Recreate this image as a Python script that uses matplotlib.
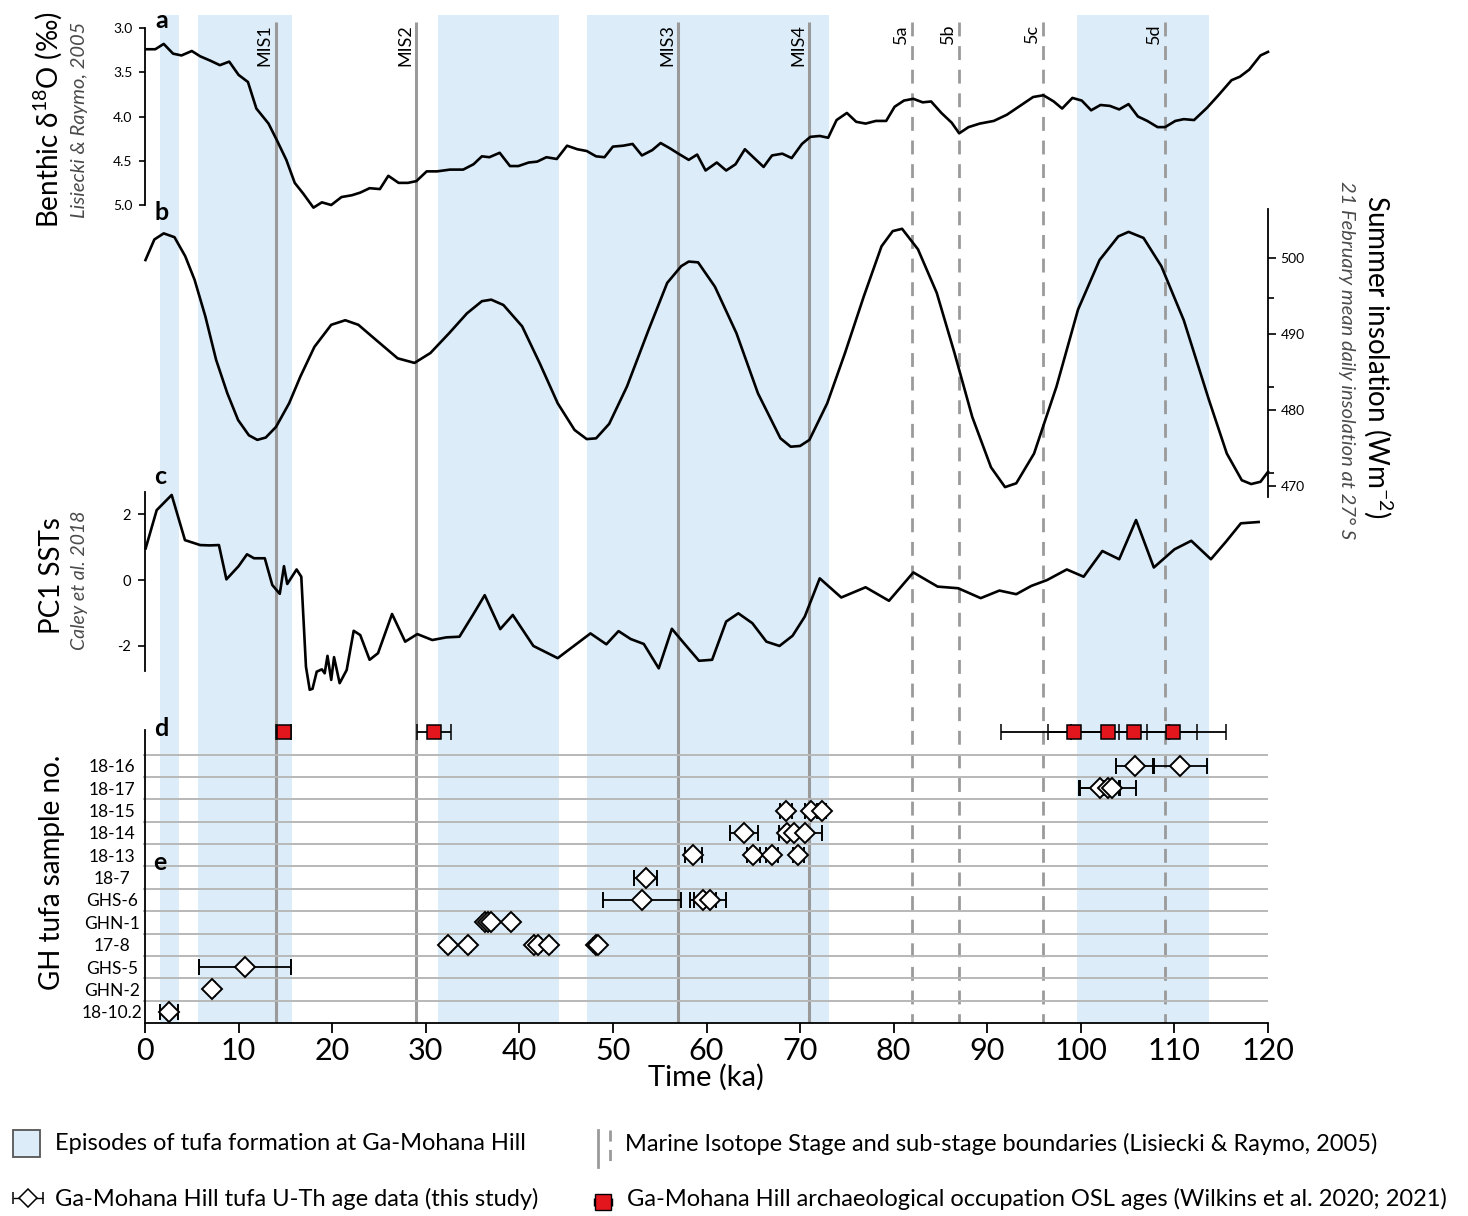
import numpy as np
import matplotlib.pyplot as plt
from matplotlib.patches import Rectangle

# ---- a: benthic d18O (Lisiecki & Raymo 2005) ----
a_age = [0.2, 1.1, 2.0, 3.0, 3.9, 5.0, 5.9, 7.0, 8.0, 9.0, 10.0, 11.0, 11.9, 13.2, 14.1, 15.1, 16.0, 16.9,
         18.0, 18.9, 19.9, 21.0, 22.1, 23.0, 24.0, 25.1, 26.0, 27.1, 28.1, 29.0, 30.1, 31.2, 32.6, 34.0,
         35.1, 36.0, 36.8, 37.9, 39.0, 39.9, 41.0, 41.9, 42.9, 44.0, 45.1, 46.2, 47.2, 48.2, 49.1, 50.0,
         51.1, 52.1, 53.1, 54.2, 55.1, 56.1, 57.0, 58.1, 59.0, 59.9, 61.1, 62.1, 63.1, 64.1, 65.0, 66.1,
         67.0, 68.1, 69.1, 70.2, 71.1, 72.1, 73.0, 73.9, 75.0, 76.0, 77.0, 78.1, 79.2, 80.1, 81.1, 82.1,
         83.1, 84.0, 85.1, 86.2, 87.0, 88.0, 89.2, 90.7, 92.1, 93.5, 94.9, 96.0, 97.1, 98.0, 99.1, 100.1,
         101.1, 102.1, 103.1, 104.1, 105.1, 106.1, 107.1, 108.2, 109.0, 110.1, 111.0, 112.1, 113.5, 114.7,
         116.1, 117.0, 118.0, 119.2, 120.0]
a_d18o = [3.24, 3.24, 3.18, 3.29, 3.31, 3.26, 3.32, 3.37, 3.42, 3.38, 3.53, 3.61, 3.91, 4.08, 4.27, 4.49,
          4.75, 4.87, 5.03, 4.97, 5.00, 4.91, 4.89, 4.86, 4.81, 4.82, 4.67, 4.75, 4.75, 4.73, 4.62, 4.62,
          4.60, 4.60, 4.54, 4.45, 4.46, 4.41, 4.56, 4.56, 4.52, 4.51, 4.46, 4.48, 4.33, 4.37, 4.39, 4.45,
          4.46, 4.34, 4.33, 4.31, 4.44, 4.38, 4.30, 4.36, 4.42, 4.49, 4.43, 4.61, 4.52, 4.61, 4.54, 4.37,
          4.46, 4.57, 4.44, 4.42, 4.47, 4.31, 4.23, 4.22, 4.24, 4.04, 3.96, 4.06, 4.08, 4.05, 4.05, 3.89,
          3.82, 3.80, 3.84, 3.83, 3.96, 4.07, 4.19, 4.12, 4.08, 4.05, 3.98, 3.88, 3.78, 3.76, 3.83, 3.91,
          3.79, 3.82, 3.93, 3.87, 3.88, 3.92, 3.86, 4.00, 4.05, 4.12, 4.12, 4.05, 4.03, 4.04, 3.90, 3.76,
          3.59, 3.55, 3.47, 3.31, 3.27]

# ---- b: summer insolation, 21 Feb, 27 S ----
b_age = [0.05, 1.0, 2.0, 3.15, 4.3, 5.3, 6.45, 7.6, 8.8, 9.95, 11.1, 12.0, 12.9, 14.0, 15.4, 16.6, 18.1,
         19.9, 21.4, 22.8, 24.7, 27.0, 28.8, 30.5, 32.5, 34.4, 36.0, 37.0, 38.3, 40.3, 42.2, 44.1, 45.9,
         47.2, 48.2, 49.6, 51.5, 53.8, 55.8, 57.3, 58.1, 59.1, 60.9, 63.2, 65.5, 67.9, 69.0, 70.0, 71.0,
         72.9, 74.8, 76.8, 78.7, 79.9, 80.9, 82.6, 84.6, 86.5, 88.4, 90.4, 91.9, 93.1, 95.0, 97.4, 99.7,
         102.0, 104.0, 105.1, 106.7, 108.6, 111.0, 113.7, 115.6, 117.2, 118.2, 119.2, 120.0]
b_insol = [499.7, 502.4, 503.2, 502.7, 500.2, 497.1, 492.3, 486.6, 482.2, 478.7, 476.7, 476.1, 476.4,
           477.8, 480.9, 484.4, 488.3, 491.2, 491.8, 491.2, 489.2, 486.8, 486.2, 487.5, 490.1, 492.7,
           494.3, 494.5, 493.8, 491.0, 486.1, 480.9, 477.4, 476.2, 476.3, 478.2, 483.1, 490.5, 496.7,
           498.9, 499.5, 499.4, 496.2, 490.1, 482.2, 476.3, 475.2, 475.3, 476.1, 480.9, 487.5, 494.9,
           501.5, 503.5, 503.8, 501.1, 495.4, 487.5, 479.1, 472.5, 469.9, 470.4, 474.3, 483.1, 493.2,
           499.7, 502.8, 503.4, 502.6, 498.9, 491.8, 481.3, 474.3, 470.8, 470.3, 470.6, 471.9]

# ---- c: PC1 SSTs (Caley et al. 2018) ----
c_age = [0.07, 1.25, 2.85, 4.27, 5.9, 6.9, 7.9, 8.7, 10.0, 10.9, 11.65, 12.8, 13.6, 14.4, 14.85, 15.2,
         16.2, 16.7, 17.2, 17.6, 17.9, 18.35, 18.9, 19.2, 19.5, 19.9, 20.2, 20.8, 21.55, 22.3, 23.0, 24.0,
         24.9, 26.4, 27.8, 29.1, 30.7, 32.2, 33.6, 35.1, 36.3, 37.96, 39.3, 41.5, 44.1, 47.6, 49.3, 50.6,
         51.9, 53.3, 54.9, 56.3, 57.6, 59.2, 60.6, 62.1, 63.4, 64.9, 66.4, 67.8, 69.2, 70.5, 72.1, 74.4,
         77.0, 79.5, 82.1, 84.7, 86.9, 89.3, 91.3, 93.1, 94.7, 96.4, 98.5, 100.3, 102.3, 104.1, 105.9,
         107.8, 110.0, 111.8, 113.9, 115.5, 117.1, 119.0]
c_pc1 = [0.96, 2.12, 2.58, 1.21, 1.06, 1.05, 1.06, 0.02, 0.42, 0.78, 0.66, 0.66, -0.15, -0.42, 0.42,
         -0.12, 0.32, 0.10, -2.63, -3.33, -3.30, -2.78, -2.71, -2.83, -2.30, -3.03, -2.34, -3.13, -2.73,
         -1.54, -1.67, -2.42, -2.22, -1.03, -1.87, -1.64, -1.82, -1.74, -1.72, -1.03, -0.46, -1.49, -1.06,
         -2.00, -2.37, -1.62, -1.95, -1.55, -1.79, -1.94, -2.68, -1.48, -1.92, -2.45, -2.42, -1.26, -1.01,
         -1.31, -1.87, -2.00, -1.69, -1.11, 0.05, -0.53, -0.22, -0.63, 0.23, -0.20, -0.25, -0.55, -0.32,
         -0.43, -0.18, 0.00, 0.32, 0.10, 0.88, 0.63, 1.82, 0.38, 0.93, 1.19, 0.63, 1.16, 1.72, 1.76]

# ---- d: OSL occupation ages ----
osl_age = [14.8, 30.9, 99.3, 102.95, 105.65, 109.8]
osl_err = [0.75, 1.8, 7.8, 6.45, 6.75, 5.7]

# ---- e: U-Th tufa ages ----
samples = ['18-10.2', 'GHN-2', 'GHS-5', '17-8', 'GHN-1', 'GHS-6', '18-7',
           '18-13', '18-14', '18-15', '18-17', '18-16']
uth_sample = ['18-10.2', 'GHN-2', 'GHS-5',
              '17-8', '17-8', '17-8', '17-8', '17-8', '17-8', '17-8',
              'GHN-1', 'GHN-1', 'GHN-1', 'GHN-1',
              'GHS-6', 'GHS-6', 'GHS-6', '18-7',
              '18-13', '18-13', '18-13', '18-13',
              '18-14', '18-14', '18-14', '18-14',
              '18-15', '18-15', '18-15',
              '18-17', '18-17', '18-17', '18-16', '18-16']
uth_age = [2.6, 7.2, 10.7,
           32.4, 34.5, 41.6, 42.0, 43.2, 48.2, 48.4,
           36.3, 36.7, 37.0, 39.1,
           53.1, 59.6, 60.4, 53.5,
           58.6, 65.0, 67.0, 69.8,
           64.0, 68.6, 69.3, 70.5,
           68.5, 71.2, 72.3,
           102.0, 102.9, 103.3, 105.8, 110.6]
uth_err = [0.95, 0.3, 4.9,
           0.3, 0.3, 0.3, 0.3, 0.3, 0.3, 0.3,
           0.3, 0.3, 0.3, 0.3,
           4.15, 1.4, 1.7, 1.25,
           0.95, 0.7, 0.6, 0.6,
           1.5, 0.9, 1.0, 1.8,
           0.6, 0.7, 0.5,
           2.2, 3.0, 0.8, 2.0, 2.9]

# ---- tufa episodes and MIS boundaries ----
band_lo = [1.6, 5.7, 31.3, 47.2, 99.6]
band_hi = [3.6, 15.7, 44.2, 73.1, 113.7]
mis_age = [14, 29, 57, 71]
mis_lab = ['MIS1', 'MIS2', 'MIS3', 'MIS4']
sub_age = [82, 87, 96, 109]
sub_lab = ['5a', '5b', '5c', '5d']

plt.rcParams['font.family'] = ['Lato', 'DejaVu Sans']
plt.rcParams['mathtext.fontset'] = 'custom'
plt.rcParams['mathtext.rm'] = 'Lato'
plt.rcParams['axes.linewidth'] = 1.3

W, H = 1468, 1216
band_col = '#dcecf8'
gray = '#9a9a9a'
fig = plt.figure(figsize=(W / 100, H / 100), dpi=100)


def px_axes(left, top, right, bottom):
    ax = fig.add_axes([left / W, 1 - bottom / H, (right - left) / W, (bottom - top) / H])
    ax.patch.set_alpha(0)
    ax.set_xlim(0, 120)
    return ax


def only_spine(ax, side):
    for s in ['left', 'right', 'top', 'bottom']:
        ax.spines[s].set_visible(s == side)


# background: episodes + boundaries
bg = px_axes(145, 15, 1268, 1023)
bg.set_ylim(1023, 15)
bg.axis('off')
for lo, hi in zip(band_lo, band_hi):
    bg.axvspan(lo, hi, color=band_col, lw=0)
bg.vlines(mis_age, 22, 1023, color=gray, lw=2.2)
bg.vlines(sub_age, 22, 1023, color=gray, lw=2.0, linestyles=(0, (5, 3.5)))
for x, t in zip(mis_age + sub_age, mis_lab + sub_lab):
    bg.text(x - 0.35, 24, t, rotation=90, ha='right', va='top', fontsize=13)

# panel a
ax_a = px_axes(145, 28, 1268, 205)
ax_a.plot(a_age, a_d18o, color='k', lw=1.9, clip_on=False)
ax_a.set_ylim(5.0, 3.0)
only_spine(ax_a, 'left')
ax_a.set_xticks([])
ax_a.set_yticks([3.0, 3.5, 4.0, 4.5, 5.0])
ax_a.set_yticklabels(['%.1f' % v for v in [3.0, 3.5, 4.0, 4.5, 5.0]])
ax_a.tick_params(axis='y', length=4, width=1.2, labelsize=10, pad=5)

# panel b
ax_b = px_axes(145, 209, 1268, 497)
ax_b.plot(b_age, b_insol, color='k', lw=1.9, clip_on=False)
ax_b.set_ylim(468.6, 506.4)
only_spine(ax_b, 'right')
ax_b.set_xticks([])
ax_b.yaxis.tick_right()
ax_b.set_yticks([470, 480, 490, 500])
ax_b.set_yticks([471.7, 483.1, 494.7], minor=True)
ax_b.tick_params(axis='y', which='major', length=6, width=1.2, labelsize=10, pad=3)
ax_b.tick_params(axis='y', which='minor', length=4, width=1.2)

# panel c
ax_c = px_axes(145, 492, 1268, 671)
ax_c.plot(c_age, c_pc1, color='k', lw=1.9, clip_on=False)
ax_c.set_ylim(-2.76, 2.67)
only_spine(ax_c, 'left')
ax_c.set_xticks([])
ax_c.set_yticks([-2, 0, 2])
ax_c.set_yticklabels(['-2', '0', '2'])
ax_c.tick_params(axis='y', length=5, width=1.2, labelsize=10.5, pad=5)

# panels d + e
ax_e = px_axes(145, 730, 1268, 1023)
ax_e.set_ylim(0, 13.1)
ax_e.spines['top'].set_visible(False)
ax_e.spines['right'].set_visible(False)
ax_e.hlines(np.arange(1, 13), -0.25, 120, color='#b8b8b8', lw=1.4, zorder=1, clip_on=False)
ax_e.errorbar(osl_age, [13.0] * len(osl_age), xerr=osl_err, fmt='s', ms=10, mfc='#e3161e', mec='k',
              mew=1.1, ecolor='k', elinewidth=1.3, capsize=6, capthick=1.3, zorder=4, clip_on=False)
uth_y = [samples.index(s) + 0.5 for s in uth_sample]
ax_e.errorbar(uth_age, uth_y, xerr=uth_err, fmt='D', ms=10.5, mfc='white', mec='k', mew=1.4,
              ecolor='k', elinewidth=1.3, capsize=6, capthick=1.3, zorder=4)
ax_e.set_yticks(np.arange(len(samples)) + 0.5)
ax_e.set_yticklabels(samples)
ax_e.tick_params(axis='y', length=0, labelsize=12.5, pad=24)
for lbl in ax_e.get_yticklabels():
    lbl.set_horizontalalignment('center')
ax_e.set_xticks(range(0, 121, 10))
ax_e.tick_params(axis='x', length=7, width=1.3, labelsize=22, pad=3)

# overlay for labels and legend
lay = fig.add_axes([0, 0, 1, 1])
lay.set_xlim(0, W)
lay.set_ylim(H, 0)
lay.axis('off')

sub_style = dict(style='italic', color='#4a4a4a')
lay.text(48, 120, 'Benthic δ$\\mathregular{^{18}}$O (‰)', rotation=90, ha='center', va='center', fontsize=20)
lay.text(80, 120, 'Lisiecki & Raymo, 2005', rotation=90, ha='center', va='center', fontsize=14.5, **sub_style)
lay.text(52, 576, 'PC1 SSTs', rotation=90, ha='center', va='center', fontsize=20)
lay.text(80, 580, 'Caley et al. 2018', rotation=90, ha='center', va='center', fontsize=14, **sub_style)
lay.text(52, 872, 'GH tufa sample no.', rotation=90, ha='center', va='center', fontsize=20)
lay.text(1378, 357, 'Summer insolation (Wm$\\mathregular{^{-2}}$)', rotation=270, ha='center', va='center',
         fontsize=20)
lay.text(1347, 360, '21 February mean daily insolation at 27° S', rotation=270, ha='center', va='center',
         fontsize=14.5, **sub_style)
lay.text(706, 1077, 'Time (ka)', ha='center', va='center', fontsize=21)

for x, y, t in [(162, 21, 'a'), (162, 213, 'b'), (160, 477, 'c'), (161, 729, 'd'), (160, 862, 'e')]:
    lay.text(x, y, t, ha='center', va='center', fontsize=18, fontweight='bold')

# legend
lay.add_patch(Rectangle((13, 1130), 27, 27, fc=band_col, ec='#555555', lw=1.3))
lay.text(55, 1144, 'Episodes of tufa formation at Ga-Mohana Hill', va='center', fontsize=17)
lay.plot([598, 598], [1130, 1167], color=gray, lw=2)
lay.plot([610, 610], [1130, 1167], color=gray, lw=2, ls=(0, (4, 3)))
lay.text(625, 1144, 'Marine Isotope Stage and sub-stage boundaries (Lisiecki & Raymo, 2005)',
         va='center', fontsize=17)
lay.errorbar([28], [1198], xerr=[15], fmt='D', ms=9, mfc='white', mec='k', mew=1.1,
             ecolor='k', elinewidth=1, capsize=4, capthick=1)
lay.text(55, 1199, 'Ga-Mohana Hill tufa U-Th age data (this study)', va='center', fontsize=17)
lay.errorbar([603], [1202], xerr=[9], fmt='s', ms=12, mfc='#e3161e', mec='k', mew=1,
             ecolor='k', elinewidth=1, capsize=3, capthick=1)
lay.text(627, 1199, 'Ga-Mohana Hill archaeological occupation OSL ages (Wilkins et al. 2020; 2021)',
         va='center', fontsize=17)

fig.savefig('out.png', dpi=100)
